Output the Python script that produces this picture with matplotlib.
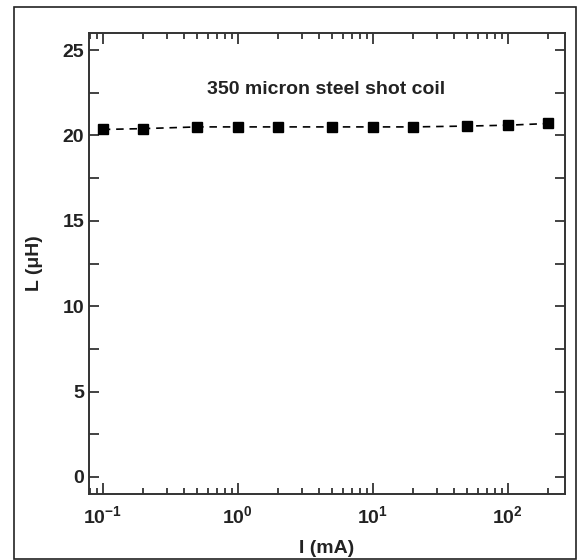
import matplotlib
matplotlib.use('Agg')
import matplotlib.pyplot as plt
from matplotlib.ticker import LogLocator, MultipleLocator, NullFormatter
from matplotlib.patches import Rectangle

# Current (mA) and inductance (uH)
current = [0.1, 0.2, 0.5, 1, 2, 5, 10, 20, 50, 100, 200]
inductance = [20.35, 20.4, 20.5, 20.5, 20.5, 20.5, 20.5, 20.5, 20.55, 20.6, 20.7]
label_text = '350 micron steel shot coil'

plt.rcParams['font.family'] = 'Liberation Sans'
plt.rcParams['font.weight'] = 'bold'
plt.rcParams['mathtext.fontset'] = 'custom'
plt.rcParams['mathtext.rm'] = 'Liberation Sans:bold'
plt.rcParams['mathtext.it'] = 'Liberation Sans:bold'
plt.rcParams['mathtext.bf'] = 'Liberation Sans:bold'
plt.rcParams['mathtext.default'] = 'regular'

fig = plt.figure(figsize=(5.77, 5.6), dpi=100)
ax = fig.add_axes([89/577, 1 - 494/560, (565-89)/577, (494-33)/560])

ax.plot(current, inductance, color='black', linestyle=(0, (4.5, 3.5)), linewidth=1.2,
        marker='s', markersize=7, markerfacecolor='black', markeredgecolor='black')

ax.set_xscale('log')
ax.set_xlim(0.079, 265)
ax.set_ylim(-1, 26)

ax.yaxis.set_major_locator(MultipleLocator(5))
ax.yaxis.set_minor_locator(MultipleLocator(2.5))
ax.xaxis.set_major_locator(LogLocator(base=10, numticks=10))
ax.xaxis.set_minor_locator(LogLocator(base=10, subs=range(2, 10), numticks=20))
ax.xaxis.set_minor_formatter(NullFormatter())

ax.tick_params(which='both', direction='in', top=True, right=True, width=1.2,
               colors='#222222', labelsize=14, labelcolor='#222222')
ax.tick_params(which='major', length=8)
ax.tick_params(which='minor', length=4)
ax.tick_params(axis='y', which='both', length=7)
ax.tick_params(axis='x', pad=8)

for s in ax.spines.values():
    s.set_linewidth(1.4)
    s.set_color('#333333')

ax.set_xlabel('I (mA)', fontsize=14, fontweight='bold', color='#222222', labelpad=9)
ax.set_ylabel('L (\u03bcH)', fontsize=14, fontweight='bold', color='#222222', labelpad=14)

ax.text(4.5, 22.7, label_text, ha='center', va='center', fontsize=14,
        fontweight='bold', color='#222222')

fig.patches.append(Rectangle((14/577, 1/560), 562/577, 552/560, transform=fig.transFigure,
                             fill=False, edgecolor='#222222', linewidth=1.2))

fig.savefig('out.png', dpi=100)
